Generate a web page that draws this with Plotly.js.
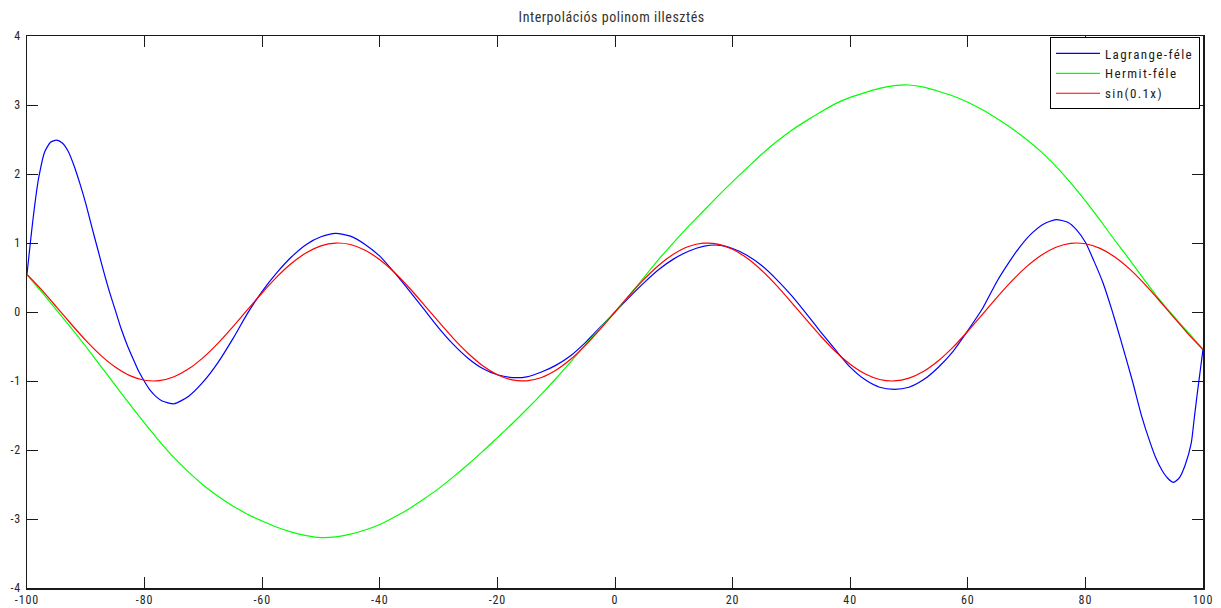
<!DOCTYPE html>
<html>
<head>
<meta charset="utf-8">
<script src="https://cdn.plot.ly/plotly-3.0.1.min.js"></script>
<style>
  html, body { margin: 0; padding: 0; background: #fff; overflow: hidden; }
  #chart { width: 1221px; height: 608px; }
  .xtick text, .ytick text { letter-spacing: 0.9px; }
  .gtitle { letter-spacing: 0.55px; }
  .legendtext { letter-spacing: 1.4px; }
</style>
</head>
<body>
<div id="chart"></div>
<script>
// Lagrange-féle (blue)
const lagrangeX = [-100,-99.5,-99,-98.5,-98,-97,-96,-95,-94,-93,-92,-91,-90,-89,-88,-87,-86,-85,-84,-83,-82,-81,-80,-79,-78,-77,-75,-72.5,-70,-67.5,-65,-62.5,-60,-57.5,-55,-52.5,-50,-47.5,-45,-42.5,-40,-37.5,-35,-32.5,-30,-27.5,-25,-22.5,-20,-17.5,-15,-12.5,-10,-7.5,-5,-2.5,0,2.5,5,7.5,10,12.5,15,17.5,20,22.5,25,27.5,30,32.5,35,37.5,40,42.5,45,47.5,50,52.5,55,57.5,60,62.5,65,67,69,71,73,75,77,78.5,80,81.5,83,84.5,86,88,89.5,91,92,93,94,95,96,97,98,98.5,99,99.5,100];
const lagrangeY = [0.55,0.95,1.33,1.67,1.95,2.32,2.46,2.49,2.45,2.33,2.12,1.86,1.57,1.24,0.92,0.60,0.30,0.03,-0.24,-0.47,-0.67,-0.86,-1.01,-1.14,-1.23,-1.29,-1.33,-1.22,-1.01,-0.73,-0.39,-0.02,0.30,0.57,0.80,0.98,1.09,1.14,1.10,0.98,0.81,0.57,0.31,0.04,-0.23,-0.47,-0.67,-0.82,-0.91,-0.95,-0.94,-0.87,-0.77,-0.63,-0.44,-0.22,0,0.22,0.43,0.62,0.77,0.88,0.95,0.97,0.92,0.82,0.67,0.47,0.24,-0.02,-0.29,-0.55,-0.80,-0.98,-1.09,-1.12,-1.09,-0.98,-0.80,-0.57,-0.27,0.05,0.45,0.72,0.96,1.15,1.28,1.34,1.30,1.19,1.01,0.73,0.42,0.03,-0.40,-1.00,-1.49,-1.89,-2.12,-2.29,-2.41,-2.47,-2.40,-2.21,-1.90,-1.55,-1.20,-0.87,-0.54];

// Hermit-féle (green)
const hermiteX = [-100,-97.5,-95,-92.5,-90,-87.5,-85,-82.5,-80,-77.5,-75,-72.5,-70,-67.5,-65,-62.5,-60,-57.5,-55,-52.5,-50,-47.5,-45,-42.5,-40,-37.5,-35,-32.5,-30,-27.5,-25,-22.5,-20,-17.5,-15,-12.5,-10,-7.5,-5,-2.5,0,2.5,5,7.5,10,12.5,15,17.5,20,22.5,25,27.5,30,32.5,35,37.5,40,42.5,45,47.5,50,52.5,55,57.5,60,62.5,65,67.5,70,72.5,75,77.5,80,82.5,85,87.5,90,92.5,95,97.5,100];
const hermiteY = [0.54,0.29,0.03,-0.23,-0.50,-0.78,-1.06,-1.34,-1.61,-1.87,-2.11,-2.32,-2.51,-2.67,-2.81,-2.93,-3.03,-3.12,-3.19,-3.24,-3.27,-3.26,-3.22,-3.16,-3.08,-2.97,-2.85,-2.71,-2.56,-2.39,-2.21,-2.02,-1.82,-1.62,-1.41,-1.19,-0.96,-0.72,-0.47,-0.23,0,0.25,0.51,0.77,1.01,1.24,1.46,1.68,1.89,2.09,2.29,2.47,2.63,2.77,2.90,3.02,3.11,3.18,3.24,3.28,3.29,3.26,3.20,3.13,3.04,2.93,2.80,2.66,2.50,2.32,2.11,1.87,1.61,1.33,1.04,0.76,0.47,0.19,-0.06,-0.30,-0.54];

// sin(0.1x) (red)
const sinX = [-100,-97.5,-95,-92.5,-90,-87.5,-85,-82.5,-80,-77.5,-75,-72.5,-70,-67.5,-65,-62.5,-60,-57.5,-55,-52.5,-50,-47.5,-45,-42.5,-40,-37.5,-35,-32.5,-30,-27.5,-25,-22.5,-20,-17.5,-15,-12.5,-10,-7.5,-5,-2.5,0,2.5,5,7.5,10,12.5,15,17.5,20,22.5,25,27.5,30,32.5,35,37.5,40,42.5,45,47.5,50,52.5,55,57.5,60,62.5,65,67.5,70,72.5,75,77.5,80,82.5,85,87.5,90,92.5,95,97.5,100];
const sinY = [0.544,0.320,0.075,-0.174,-0.412,-0.625,-0.798,-0.922,-0.989,-0.995,-0.938,-0.823,-0.657,-0.450,-0.215,0.033,0.279,0.509,0.706,0.859,0.959,0.999,0.978,0.895,0.757,0.572,0.351,0.108,-0.141,-0.382,-0.598,-0.778,-0.909,-0.984,-0.997,-0.949,-0.841,-0.682,-0.479,-0.247,0,0.247,0.479,0.682,0.841,0.949,0.997,0.984,0.909,0.778,0.598,0.382,0.141,-0.108,-0.351,-0.572,-0.757,-0.895,-0.978,-0.999,-0.959,-0.859,-0.706,-0.509,-0.279,-0.033,0.215,0.450,0.657,0.823,0.938,0.995,0.989,0.922,0.798,0.625,0.412,0.174,-0.075,-0.320,-0.544];

const seriesNames = ['Lagrange-féle', 'Hermit-féle', 'sin(0.1x)'];
const xTicks = [-100,-80,-60,-40,-20,0,20,40,60,80,100];
const yTicks = [-4,-3,-2,-1,0,1,2,3,4];
const chartTitle = 'Interpolációs polinom illesztés';

const FONT = '"Roboto Condensed", "DejaVu Sans Condensed", "Liberation Sans", Arial, sans-serif';

const traces = [
  {x: lagrangeX, y: lagrangeY, name: seriesNames[0], mode: 'lines', line: {color: '#0000ff', width: 1.2, shape: 'spline', smoothing: 0.6}},
  {x: hermiteX, y: hermiteY, name: seriesNames[1], mode: 'lines', line: {color: '#00ff00', width: 1.2, shape: 'spline', smoothing: 0.6}},
  {x: sinX, y: sinY, name: seriesNames[2], mode: 'lines', line: {color: '#ff0000', width: 1.2, shape: 'spline', smoothing: 0.6}}
];

const axisCommon = {
  showgrid: false, zeroline: false,
  showline: true, linecolor: '#1a1a1a', linewidth: 1.5, mirror: 'ticks',
  ticks: 'inside', ticklen: 11, tickwidth: 1, tickcolor: '#1a1a1a',
  tickfont: {family: FONT, size: 12, color: '#262626'}
};

const layout = {
  width: 1221, height: 608,
  margin: {l: 27, r: 18, t: 36, b: 20, pad: 0, autoexpand: false},
  paper_bgcolor: '#ffffff', plot_bgcolor: '#ffffff',
  title: {text: chartTitle, font: {family: FONT, size: 14, color: '#333333'},
          x: 0.501, xref: 'container', xanchor: 'center', y: 0.972, yref: 'container', yanchor: 'middle'},
  xaxis: Object.assign({}, axisCommon, {range: [-100, 100], tickvals: xTicks, ticktext: xTicks.map(String)}),
  yaxis: Object.assign({}, axisCommon, {range: [-4, 4], tickvals: yTicks, ticktext: yTicks.map(String), ticklabelstandoff: 2}),
  showlegend: true,
  legend: {x: 0.8699, y: 0.9973, xanchor: 'left', yanchor: 'top',
           bgcolor: '#ffffff', bordercolor: '#000000', borderwidth: 1,
           font: {family: FONT, size: 13, color: '#1a1a1a'}, itemwidth: 44, tracegroupgap: 0}
};

Plotly.newPlot('chart', traces, layout, {displayModeBar: false, staticPlot: true});
</script>
</body>
</html>
